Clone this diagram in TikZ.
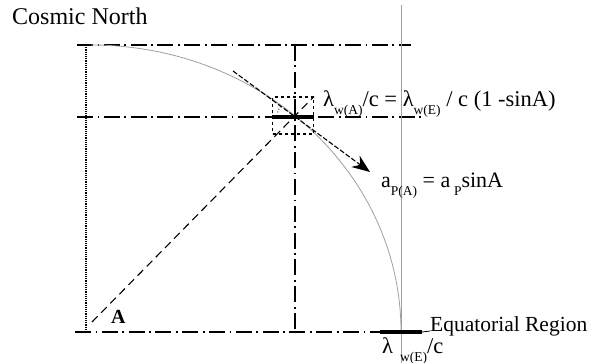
\documentclass[tikz,border=0pt]{standalone}
\usepackage{fontspec}
\setmainfont{Liberation Serif}
\usetikzlibrary{arrows.meta, positioning}

\newcommand{\sbs}[1]{\raisebox{-8pt}{\fontsize{13.5}{14}\selectfont #1}}

\begin{document}
\begin{tikzpicture}[x=1pt, y=1pt,
    axis/.style={line width=1.3pt, dash pattern=on 16pt off 4.5pt on 1.8pt off 4.5pt},
    orbit/.style={gray!75, line width=0.8pt},
    bar/.style={line width=4.5pt},
    lbl/.style={inner sep=0pt, font=\fontsize{22.5}{24}\selectfont},
]
\useasboundingbox (0,0) rectangle (593,-363);

% ---- reference lines ----
\coordinate (tl) at (77,-45);  \coordinate (tr) at (411,-45);
\coordinate (ml) at (77,-117); \coordinate (mr) at (423,-117);
\coordinate (bl) at (75,-332); \coordinate (br) at (380,-332);
\coordinate (vt) at (295,-45); \coordinate (vb) at (295,-332);
\coordinate (dt) at (86,-45);  \coordinate (db) at (86,-332);
\coordinate (gt) at (401,-5);  \coordinate (gb) at (401,-363);

\draw[axis] (tl) -- (tr);
\draw[axis] (ml) -- (mr);
\draw[axis] (bl) -- (br);
\draw[axis] (vt) -- (vb);
\draw[densely dotted, line width=1.2pt] (dt) -- (db);
\draw[orbit] (gt) -- (gb);
\draw[orbit] (91,-45) arc[start angle=90, end angle=0, x radius=310, y radius=287];

% ---- point on the orbit ----
\coordinate (P) at (295,-117);
\node[draw, dashed, line width=1.2pt, minimum width=41pt, minimum height=37pt, inner sep=0pt]
    (win) at (293,-115.5) {};
\draw[bar] (win.west |- P) -- (win.east |- P);
\draw[dotted, line width=0.9pt] ([shift={(165:18)}]P) arc[start angle=165, end angle=138, radius=18];

% angle A and tangent
\coordinate (a0) at (92,-322);
\draw[dash pattern=on 8pt off 5pt, line width=1.1pt] (a0) -- (win.north east);
\coordinate (t0) at (233,-71);
\coordinate (t1) at (370,-172);
\draw[dash pattern=on 5pt off 2pt, line width=1.1pt, -{Stealth[length=18pt, width=14pt]}] (t0) -- (t1);

% ---- labels ----
\node[lbl, font=\fontsize{24}{26}\selectfont, anchor=base west] (cn) at (12,-25) {Cosmic North};
\node[lbl, anchor=base west] (lam) at (323,-107)
    {λ\sbs{w(A)}/c = λ\sbs{w(E)} / c (1 -sinA)};
\node[lbl, font=\fontsize{22}{24}\selectfont, anchor=base west] (acc) at (381,-188)
    {a\sbs{P(A)} = a\,\sbs{P}sinA};
\node[lbl, font=\fontsize{20}{22}\selectfont\bfseries, anchor=base west] (angA) at (111,-323) {A};

% ---- equatorial region ----
\coordinate (q0) at (380,-332);
\coordinate (q1) at (422,-332);
\draw[bar] (q0) -- (q1);
\node[lbl, font=\fontsize{21.5}{23}\selectfont, anchor=base west] (eqr) at (430,-331) {Equatorial Region};
\draw[line width=0.8pt] (q1) -- (eqr.base west);
\node[lbl, anchor=base west] (lamE) at (382,-353) {λ\hspace{7pt}\sbs{w(E)}/c};

\end{tikzpicture}
\end{document}
